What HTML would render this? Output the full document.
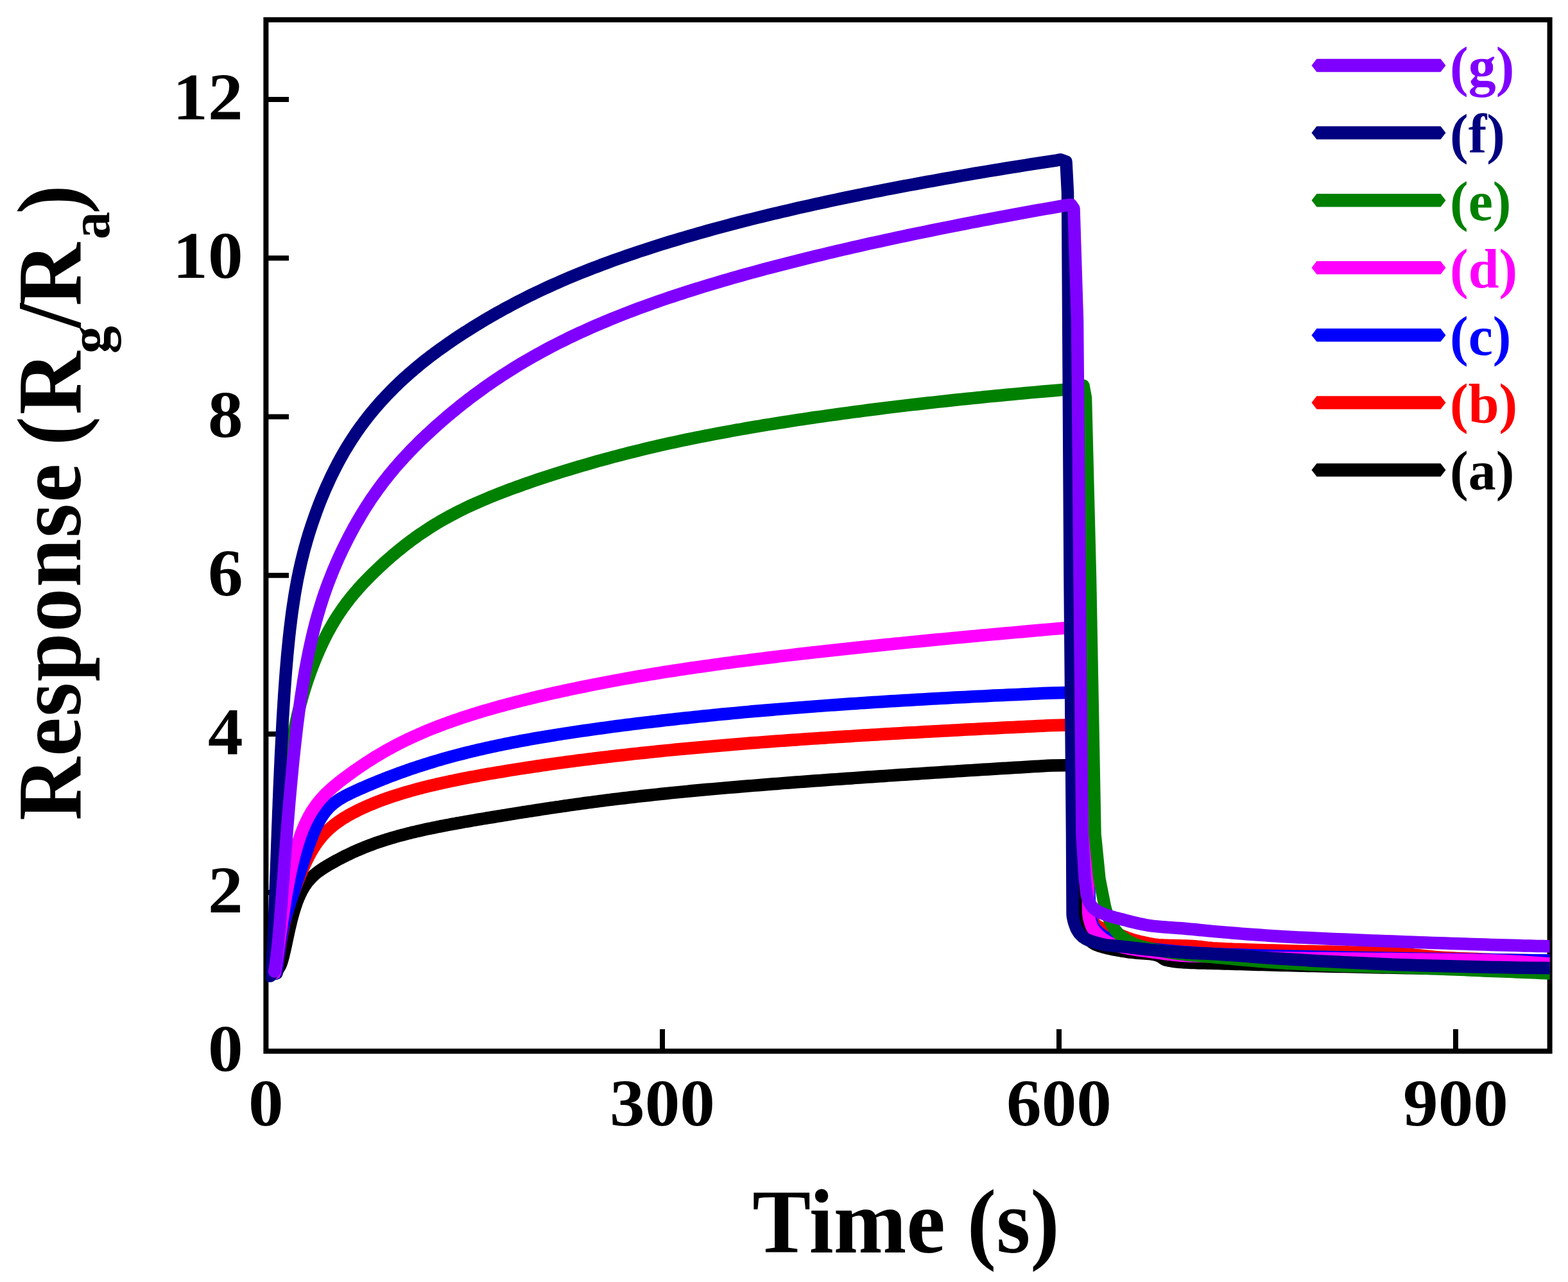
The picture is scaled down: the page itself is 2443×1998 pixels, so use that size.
<!DOCTYPE html>
<html lang="en">
<head>
<meta charset="utf-8">
<title>Response vs Time</title>
<style>
html,body{margin:0;padding:0;background:#fff;}
body{width:2443px;height:1998px;overflow:hidden;}
svg{display:block;}
text{font-family:"Liberation Serif","DejaVu Serif",serif;font-weight:bold;}
.tk{font-size:104px;fill:#000;}
.lg{font-size:86px;}
.ax{font-size:141px;fill:#000;}
</style>
</head>
<body>
<svg xmlns="http://www.w3.org/2000/svg" width="2443" height="1998" viewBox="0 0 2443 1998">
<rect x="0" y="0" width="2443" height="1998" fill="#ffffff"/>
<defs><clipPath id="plot"><rect x="414.4" y="30.8" width="2000.1999999999998" height="1607.5"/></clipPath></defs>

<rect x="414.4" y="30.8" width="2000.2" height="1607.5" fill="none" stroke="#000" stroke-width="8"/>
<line x1="414.4" y1="1391.1" x2="450" y2="1391.1" stroke="#000" stroke-width="8"/>
<line x1="414.4" y1="1143.9" x2="450" y2="1143.9" stroke="#000" stroke-width="8"/>
<line x1="414.4" y1="896.7" x2="450" y2="896.7" stroke="#000" stroke-width="8"/>
<line x1="414.4" y1="649.5" x2="450" y2="649.5" stroke="#000" stroke-width="8"/>
<line x1="414.4" y1="402.3" x2="450" y2="402.3" stroke="#000" stroke-width="8"/>
<line x1="414.4" y1="155.1" x2="450" y2="155.1" stroke="#000" stroke-width="8"/>
<line x1="1032" y1="1638.3" x2="1032" y2="1604" stroke="#000" stroke-width="8"/>
<line x1="1650" y1="1638.3" x2="1650" y2="1604" stroke="#000" stroke-width="8"/>
<line x1="2268" y1="1638.3" x2="2268" y2="1604" stroke="#000" stroke-width="8"/>
<text class="tk" transform="translate(378.5,1669.3) scale(1.05,1)" text-anchor="end">0</text>
<text class="tk" transform="translate(378.5,1422.1) scale(1.05,1)" text-anchor="end">2</text>
<text class="tk" transform="translate(378.5,1174.9) scale(1.05,1)" text-anchor="end">4</text>
<text class="tk" transform="translate(378.5,927.7) scale(1.05,1)" text-anchor="end">6</text>
<text class="tk" transform="translate(378.5,680.5) scale(1.05,1)" text-anchor="end">8</text>
<text class="tk" transform="translate(378.5,433.3) scale(1.05,1)" text-anchor="end">10</text>
<text class="tk" transform="translate(378.5,186.1) scale(1.05,1)" text-anchor="end">12</text>
<text class="tk" transform="translate(414.4,1753.5) scale(1.05,1)" text-anchor="middle">0</text>
<text class="tk" transform="translate(1032,1753.5) scale(1.05,1)" text-anchor="middle">300</text>
<text class="tk" transform="translate(1650,1753.5) scale(1.05,1)" text-anchor="middle">600</text>
<text class="tk" transform="translate(2268,1753.5) scale(1.05,1)" text-anchor="middle">900</text>
<g clip-path="url(#plot)" fill="none" stroke-linejoin="round" stroke-linecap="round" stroke-width="19.5">
<path d="M431.0,1516.9 L431.2,1516.1 L431.4,1515.4 L431.6,1514.6 L431.8,1513.9 L432.0,1513.3 L432.3,1512.6 L432.6,1512.0 L432.9,1511.3 L433.2,1510.7 L433.5,1510.1 L433.9,1509.5 L434.3,1508.9 L434.7,1508.3 L435.1,1507.7 L435.5,1507.0 L435.9,1506.3 L436.3,1505.5 L436.7,1504.6 L437.1,1503.8 L437.5,1502.8 L437.9,1501.8 L438.3,1500.7 L438.7,1499.6 L439.1,1498.4 L439.5,1497.2 L439.9,1495.9 L440.2,1494.6 L440.6,1493.2 L441.0,1491.7 L441.4,1490.3 L441.8,1488.7 L442.1,1487.2 L442.5,1485.5 L442.9,1483.9 L443.3,1482.2 L443.7,1480.5 L444.1,1478.7 L444.5,1476.9 L444.9,1475.1 L445.3,1473.3 L445.7,1471.4 L446.1,1469.5 L446.5,1467.6 L446.9,1465.6 L447.3,1463.7 L447.8,1461.7 L448.2,1459.7 L448.6,1457.6 L449.1,1455.6 L449.5,1453.5 L450.0,1451.5 L450.4,1449.4 L450.9,1447.3 L451.4,1445.2 L451.9,1443.1 L452.4,1441.0 L452.9,1438.9 L453.4,1436.8 L453.9,1434.7 L454.4,1432.6 L455.0,1430.5 L455.5,1428.4 L456.1,1426.3 L456.7,1424.2 L457.3,1422.1 L457.9,1420.1 L458.5,1418.0 L459.2,1415.9 L459.8,1413.9 L460.5,1411.9 L461.2,1409.8 L461.9,1407.9 L462.6,1405.9 L463.3,1403.9 L464.1,1402.0 L464.9,1400.0 L465.7,1398.1 L466.5,1396.3 L467.3,1394.4 L468.2,1392.6 L469.1,1390.8 L470.0,1389.0 L470.9,1387.2 L471.9,1385.5 L472.9,1383.8 L473.9,1382.1 L475.0,1380.5 L476.1,1378.9 L477.2,1377.3 L478.3,1375.8 L479.5,1374.2 L480.7,1372.8 L482.0,1371.3 L483.2,1369.9 L484.5,1368.5 L485.9,1367.1 L487.2,1365.8 L488.6,1364.5 L490.0,1363.2 L491.5,1362.0 L493.0,1360.7 L494.5,1359.5 L496.0,1358.4 L497.6,1357.2 L499.2,1356.1 L500.8,1355.0 L502.5,1353.9 L504.1,1352.8 L505.8,1351.7 L507.6,1350.6 L509.3,1349.6 L511.1,1348.5 L512.9,1347.5 L514.7,1346.4 L516.5,1345.4 L518.4,1344.3 L520.3,1343.3 L522.2,1342.2 L524.1,1341.2 L526.0,1340.1 L528.0,1339.1 L530.0,1338.1 L532.0,1337.0 L534.0,1336.0 L536.1,1334.9 L538.2,1333.9 L540.3,1332.9 L542.4,1331.8 L544.6,1330.8 L546.7,1329.8 L548.9,1328.7 L551.1,1327.7 L553.4,1326.7 L555.6,1325.7 L557.9,1324.7 L560.2,1323.7 L562.6,1322.7 L564.9,1321.8 L567.3,1320.8 L569.7,1319.8 L572.1,1318.9 L574.6,1317.9 L577.1,1317.0 L579.6,1316.1 L582.1,1315.1 L584.6,1314.2 L587.2,1313.3 L589.8,1312.4 L592.4,1311.6 L595.1,1310.7 L597.7,1309.8 L600.4,1309.0 L603.1,1308.1 L605.9,1307.3 L608.6,1306.4 L611.4,1305.6 L614.2,1304.8 L617.0,1304.0 L619.9,1303.2 L622.8,1302.4 L625.7,1301.6 L628.6,1300.9 L631.5,1300.1 L634.5,1299.3 L637.5,1298.6 L640.5,1297.8 L643.5,1297.1 L646.6,1296.4 L649.7,1295.6 L652.8,1294.9 L655.9,1294.2 L659.1,1293.5 L662.2,1292.8 L665.4,1292.1 L668.6,1291.4 L671.9,1290.8 L675.2,1290.1 L678.4,1289.4 L681.7,1288.7 L685.1,1288.1 L688.4,1287.4 L691.8,1286.8 L695.2,1286.1 L698.6,1285.5 L702.1,1284.8 L705.5,1284.2 L709.0,1283.6 L712.5,1282.9 L716.1,1282.3 L719.6,1281.7 L723.2,1281.0 L726.8,1280.4 L730.4,1279.8 L734.1,1279.1 L737.8,1278.5 L741.4,1277.9 L745.2,1277.2 L748.9,1276.6 L752.6,1276.0 L756.4,1275.4 L760.2,1274.7 L764.1,1274.1 L767.9,1273.5 L771.8,1272.8 L775.7,1272.2 L779.6,1271.6 L783.5,1270.9 L787.4,1270.3 L791.4,1269.6 L795.4,1269.0 L799.4,1268.3 L803.5,1267.7 L807.6,1267.0 L811.6,1266.4 L815.8,1265.7 L819.9,1265.1 L824.0,1264.4 L828.2,1263.8 L832.4,1263.1 L836.6,1262.5 L840.9,1261.8 L845.1,1261.2 L849.4,1260.5 L853.7,1259.9 L858.1,1259.2 L862.4,1258.6 L866.8,1257.9 L871.2,1257.3 L875.6,1256.6 L880.0,1256.0 L884.5,1255.3 L889.0,1254.7 L893.5,1254.1 L898.0,1253.4 L902.6,1252.8 L907.2,1252.2 L911.8,1251.5 L916.4,1250.9 L921.0,1250.3 L925.7,1249.7 L930.4,1249.1 L935.1,1248.4 L939.8,1247.8 L944.6,1247.2 L949.4,1246.6 L954.2,1246.0 L959.0,1245.4 L963.8,1244.9 L968.7,1244.3 L973.6,1243.7 L978.5,1243.1 L983.4,1242.5 L988.4,1242.0 L993.4,1241.4 L998.4,1240.8 L1003.4,1240.3 L1008.4,1239.7 L1013.5,1239.2 L1018.6,1238.6 L1023.7,1238.1 L1028.8,1237.5 L1034.0,1237.0 L1039.2,1236.5 L1044.4,1235.9 L1049.6,1235.4 L1054.9,1234.9 L1060.1,1234.4 L1065.4,1233.9 L1070.7,1233.4 L1076.1,1232.8 L1081.4,1232.3 L1086.8,1231.8 L1092.2,1231.3 L1097.6,1230.8 L1103.1,1230.3 L1108.6,1229.9 L1114.0,1229.4 L1119.6,1228.9 L1125.1,1228.4 L1130.7,1227.9 L1136.2,1227.4 L1141.8,1227.0 L1147.5,1226.5 L1153.1,1226.0 L1158.8,1225.5 L1164.5,1225.1 L1170.2,1224.6 L1175.9,1224.1 L1181.7,1223.7 L1187.5,1223.2 L1193.3,1222.7 L1199.1,1222.3 L1205.0,1221.8 L1210.8,1221.4 L1216.7,1220.9 L1222.6,1220.4 L1228.6,1220.0 L1234.5,1219.5 L1240.5,1219.1 L1246.5,1218.6 L1252.5,1218.2 L1258.6,1217.7 L1264.7,1217.3 L1270.8,1216.8 L1276.9,1216.4 L1283.0,1216.0 L1289.2,1215.5 L1295.3,1215.1 L1301.5,1214.6 L1307.8,1214.2 L1314.0,1213.7 L1320.3,1213.3 L1326.6,1212.9 L1332.9,1212.4 L1339.2,1212.0 L1345.6,1211.5 L1352.0,1211.1 L1358.4,1210.7 L1364.8,1210.2 L1371.3,1209.8 L1377.7,1209.4 L1384.2,1208.9 L1390.7,1208.5 L1397.3,1208.0 L1403.8,1207.6 L1410.4,1207.2 L1417.0,1206.7 L1423.6,1206.3 L1430.3,1205.9 L1436.9,1205.4 L1443.6,1205.0 L1450.4,1204.6 L1457.1,1204.1 L1463.8,1203.7 L1470.6,1203.3 L1477.4,1202.8 L1484.3,1202.4 L1491.1,1201.9 L1498.0,1201.5 L1504.9,1201.1 L1511.8,1200.6 L1518.7,1200.2 L1525.7,1199.8 L1532.6,1199.3 L1539.6,1198.9 L1546.7,1198.5 L1553.7,1198.0 L1560.8,1197.6 L1567.9,1197.2 L1575.0,1196.7 L1582.1,1196.3 L1589.3,1195.9 L1596.5,1195.5 L1603.7,1195.0 L1610.9,1194.6 L1618.1,1194.2 L1625.4,1193.7 L1632.7,1193.3 L1640.0,1192.9 L1680.0,1192.5 L1685.0,1200.0 L1686.0,1300.0 L1687.0,1440.0 L1687.0,1440.0 L1687.3,1443.0 L1687.8,1445.9 L1688.4,1448.7 L1689.3,1451.4 L1690.2,1454.0 L1691.3,1456.4 L1692.4,1458.7 L1693.8,1461.0 L1695.5,1463.2 L1697.5,1465.3 L1699.7,1467.3 L1701.9,1469.1 L1704.2,1470.6 L1706.5,1471.8 L1708.9,1472.9 L1711.4,1473.8 L1714.0,1474.7 L1716.7,1475.5 L1719.6,1476.3 L1722.7,1477.1 L1726.1,1478.0 L1729.8,1478.8 L1733.8,1479.6 L1738.0,1480.4 L1742.4,1481.2 L1746.8,1482.0 L1751.3,1482.7 L1755.7,1483.4 L1759.9,1484.0 L1763.9,1484.4 L1767.8,1484.8 L1771.7,1485.2 L1775.7,1485.5 L1779.6,1485.8 L1783.4,1486.0 L1787.0,1486.3 L1790.3,1486.6 L1793.4,1486.9 L1796.0,1487.3 L1798.4,1487.7 L1800.5,1488.2 L1802.4,1488.8 L1804.3,1489.4 L1806.2,1490.1 L1808.1,1491.1 L1809.8,1492.3 L1811.5,1493.6 L1813.4,1494.8 L1815.6,1495.8 L1818.2,1496.5 L1821.2,1497.1 L1824.5,1497.7 L1828.1,1498.3 L1831.9,1498.8 L1835.8,1499.2 L1839.8,1499.6 L1843.9,1499.9 L1847.9,1500.1 L1851.8,1500.3 L1855.8,1500.5 L1859.9,1500.6 L1864.0,1500.7 L1868.3,1500.9 L1872.6,1501.0 L1877.1,1501.1 L1881.8,1501.2 L1886.6,1501.3 L1891.6,1501.4 L1896.9,1501.6 L1902.3,1501.7 L1908.0,1501.9 L1913.9,1502.1 L1919.9,1502.3 L1926.2,1502.5 L1932.6,1502.6 L1939.2,1502.8 L1946.0,1503.0 L1952.9,1503.2 L1959.9,1503.4 L1967.1,1503.6 L1974.4,1503.8 L1981.8,1504.0 L1989.3,1504.2 L1996.9,1504.4 L2004.6,1504.6 L2012.7,1504.8 L2020.9,1505.0 L2029.4,1505.2 L2038.2,1505.4 L2047.1,1505.6 L2056.2,1505.8 L2065.5,1506.0 L2075.0,1506.2 L2084.5,1506.4 L2094.2,1506.6 L2103.9,1506.8 L2113.8,1507.0 L2123.6,1507.3 L2133.5,1507.5 L2143.4,1507.7 L2153.2,1507.9 L2163.1,1508.1 L2172.8,1508.3 L2182.5,1508.5 L2192.1,1508.7 L2201.6,1508.8 L2210.9,1509.0 L2220.2,1509.2 L2229.5,1509.4 L2238.8,1509.6 L2248.1,1509.8 L2257.4,1510.0 L2266.6,1510.2 L2275.9,1510.3 L2285.2,1510.5 L2294.4,1510.7 L2303.7,1510.9 L2313.0,1511.1 L2322.2,1511.3 L2331.5,1511.4 L2340.7,1511.6 L2350.0,1511.8 L2359.2,1512.0 L2368.5,1512.1 L2377.7,1512.3 L2386.9,1512.5 L2396.2,1512.7 L2405.4,1512.8 L2414.6,1513.0" stroke="#000000"/>
<path d="M429.0,1517.1 L429.3,1516.8 L429.6,1516.2 L429.8,1515.5 L430.0,1514.6 L430.3,1513.7 L430.5,1512.7 L430.7,1511.6 L430.9,1510.5 L431.1,1509.3 L431.3,1508.1 L431.5,1506.8 L431.7,1505.5 L431.9,1504.2 L432.1,1502.8 L432.3,1501.4 L432.5,1500.0 L432.8,1498.5 L433.0,1497.0 L433.2,1495.5 L433.4,1493.9 L433.7,1492.4 L433.9,1490.8 L434.2,1489.2 L434.4,1487.5 L434.6,1485.9 L434.9,1484.2 L435.2,1482.5 L435.4,1480.8 L435.7,1479.1 L436.0,1477.3 L436.2,1475.6 L436.5,1473.8 L436.8,1472.0 L437.1,1470.2 L437.4,1468.4 L437.7,1466.6 L438.0,1464.7 L438.3,1462.9 L438.7,1461.0 L439.0,1459.2 L439.3,1457.3 L439.7,1455.4 L440.0,1453.5 L440.4,1451.6 L440.7,1449.7 L441.1,1447.8 L441.5,1445.9 L441.9,1444.0 L442.3,1442.1 L442.7,1440.2 L443.1,1438.3 L443.6,1436.4 L444.0,1434.4 L444.5,1432.5 L444.9,1430.6 L445.4,1428.7 L445.9,1426.8 L446.4,1424.9 L446.9,1423.0 L447.4,1421.1 L448.0,1419.2 L448.5,1417.3 L449.1,1415.4 L449.7,1413.4 L450.2,1411.5 L450.8,1409.6 L451.5,1407.7 L452.1,1405.8 L452.7,1403.9 L453.4,1402.0 L454.0,1400.0 L454.7,1398.1 L455.4,1396.1 L456.1,1394.2 L456.8,1392.2 L457.5,1390.2 L458.3,1388.3 L459.0,1386.3 L459.8,1384.2 L460.5,1382.2 L461.3,1380.2 L462.1,1378.1 L462.9,1376.1 L463.7,1374.0 L464.6,1371.9 L465.4,1369.8 L466.2,1367.6 L467.1,1365.5 L468.0,1363.4 L468.9,1361.2 L469.8,1359.0 L470.7,1356.9 L471.6,1354.7 L472.6,1352.5 L473.5,1350.3 L474.5,1348.2 L475.5,1346.0 L476.5,1343.8 L477.6,1341.6 L478.6,1339.5 L479.7,1337.3 L480.8,1335.1 L481.9,1333.0 L483.1,1330.9 L484.2,1328.8 L485.4,1326.7 L486.7,1324.6 L487.9,1322.5 L489.2,1320.5 L490.5,1318.5 L491.8,1316.5 L493.2,1314.5 L494.5,1312.5 L496.0,1310.6 L497.4,1308.7 L498.9,1306.9 L500.4,1305.0 L501.9,1303.2 L503.5,1301.4 L505.1,1299.7 L506.8,1297.9 L508.4,1296.2 L510.2,1294.6 L511.9,1292.9 L513.7,1291.3 L515.5,1289.7 L517.3,1288.2 L519.2,1286.6 L521.1,1285.1 L523.0,1283.7 L525.0,1282.2 L527.0,1280.8 L529.0,1279.4 L531.0,1278.0 L533.1,1276.6 L535.2,1275.3 L537.4,1274.0 L539.5,1272.7 L541.7,1271.4 L544.0,1270.1 L546.2,1268.9 L548.5,1267.6 L550.8,1266.4 L553.2,1265.2 L555.5,1264.0 L557.9,1262.8 L560.3,1261.6 L562.8,1260.4 L565.3,1259.3 L567.8,1258.1 L570.3,1257.0 L572.8,1255.9 L575.4,1254.8 L578.0,1253.7 L580.7,1252.6 L583.3,1251.5 L586.0,1250.5 L588.7,1249.4 L591.4,1248.4 L594.2,1247.3 L597.0,1246.3 L599.8,1245.3 L602.7,1244.3 L605.5,1243.3 L608.4,1242.3 L611.3,1241.3 L614.3,1240.3 L617.3,1239.4 L620.3,1238.4 L623.3,1237.5 L626.3,1236.5 L629.4,1235.6 L632.5,1234.7 L635.6,1233.8 L638.8,1232.9 L641.9,1232.0 L645.1,1231.1 L648.4,1230.2 L651.6,1229.3 L654.9,1228.5 L658.2,1227.6 L661.5,1226.8 L664.9,1225.9 L668.3,1225.1 L671.7,1224.3 L675.1,1223.5 L678.6,1222.7 L682.0,1221.8 L685.5,1221.1 L689.1,1220.3 L692.6,1219.5 L696.2,1218.7 L699.8,1217.9 L703.5,1217.2 L707.1,1216.4 L710.8,1215.6 L714.5,1214.9 L718.2,1214.2 L722.0,1213.4 L725.8,1212.7 L729.6,1211.9 L733.4,1211.2 L737.3,1210.5 L741.1,1209.8 L745.0,1209.1 L749.0,1208.3 L752.9,1207.6 L756.9,1206.9 L760.9,1206.2 L764.9,1205.5 L769.0,1204.8 L773.1,1204.1 L777.2,1203.4 L781.3,1202.8 L785.4,1202.1 L789.6,1201.4 L793.8,1200.7 L798.1,1200.0 L802.3,1199.3 L806.6,1198.7 L810.9,1198.0 L815.2,1197.3 L819.5,1196.6 L823.9,1196.0 L828.3,1195.3 L832.7,1194.7 L837.2,1194.0 L841.7,1193.3 L846.2,1192.7 L850.7,1192.0 L855.2,1191.4 L859.8,1190.7 L864.4,1190.1 L869.0,1189.4 L873.7,1188.8 L878.3,1188.2 L883.0,1187.5 L887.7,1186.9 L892.5,1186.3 L897.2,1185.7 L902.0,1185.0 L906.9,1184.4 L911.7,1183.8 L916.6,1183.2 L921.5,1182.6 L926.4,1182.0 L931.3,1181.4 L936.3,1180.8 L941.3,1180.2 L946.3,1179.6 L951.3,1179.0 L956.4,1178.4 L961.5,1177.8 L966.6,1177.2 L971.7,1176.7 L976.9,1176.1 L982.1,1175.5 L987.3,1174.9 L992.5,1174.4 L997.8,1173.8 L1003.0,1173.2 L1008.4,1172.7 L1013.7,1172.1 L1019.0,1171.6 L1024.4,1171.0 L1029.8,1170.5 L1035.3,1169.9 L1040.7,1169.4 L1046.2,1168.9 L1051.7,1168.3 L1057.2,1167.8 L1062.8,1167.3 L1068.4,1166.7 L1074.0,1166.2 L1079.6,1165.7 L1085.3,1165.2 L1090.9,1164.7 L1096.6,1164.2 L1102.4,1163.7 L1108.1,1163.2 L1113.9,1162.7 L1119.7,1162.2 L1125.5,1161.7 L1131.4,1161.2 L1137.3,1160.7 L1143.1,1160.2 L1149.1,1159.7 L1155.0,1159.3 L1161.0,1158.8 L1167.0,1158.3 L1173.0,1157.8 L1179.1,1157.4 L1185.1,1156.9 L1191.2,1156.5 L1197.3,1156.0 L1203.5,1155.5 L1209.7,1155.1 L1215.9,1154.6 L1222.1,1154.2 L1228.3,1153.7 L1234.6,1153.3 L1240.9,1152.9 L1247.2,1152.4 L1253.5,1152.0 L1259.9,1151.6 L1266.3,1151.1 L1272.7,1150.7 L1279.1,1150.3 L1285.6,1149.9 L1292.1,1149.4 L1298.6,1149.0 L1305.1,1148.6 L1311.7,1148.2 L1318.3,1147.8 L1324.9,1147.4 L1331.5,1146.9 L1338.2,1146.5 L1344.9,1146.1 L1351.6,1145.7 L1358.3,1145.3 L1365.1,1144.9 L1371.9,1144.5 L1378.7,1144.1 L1385.5,1143.7 L1392.4,1143.3 L1399.2,1142.9 L1406.1,1142.5 L1413.1,1142.1 L1420.0,1141.8 L1427.0,1141.4 L1434.0,1141.0 L1441.0,1140.6 L1448.1,1140.2 L1455.2,1139.8 L1462.3,1139.4 L1469.4,1139.0 L1476.5,1138.7 L1483.7,1138.3 L1490.9,1137.9 L1498.1,1137.5 L1505.4,1137.1 L1512.6,1136.8 L1519.9,1136.4 L1527.3,1136.0 L1534.6,1135.6 L1542.0,1135.3 L1549.4,1134.9 L1556.8,1134.5 L1564.2,1134.1 L1571.7,1133.8 L1579.2,1133.4 L1586.7,1133.0 L1594.2,1132.7 L1601.8,1132.3 L1609.4,1131.9 L1617.0,1131.6 L1624.6,1131.2 L1632.3,1130.8 L1640.0,1130.5 L1682.0,1129.5 L1688.0,1140.0 L1692.0,1300.0 L1697.0,1410.0 L1697.0,1410.0 L1697.3,1414.6 L1697.9,1419.0 L1698.8,1423.2 L1699.8,1427.0 L1701.0,1430.6 L1702.3,1433.8 L1703.8,1436.5 L1705.2,1438.9 L1706.9,1440.9 L1709.1,1442.7 L1711.6,1444.2 L1714.3,1445.6 L1717.2,1446.9 L1720.1,1448.2 L1723.0,1449.4 L1725.9,1450.6 L1728.9,1451.7 L1732.0,1452.7 L1735.1,1453.7 L1738.3,1454.8 L1741.4,1455.8 L1744.4,1456.9 L1747.4,1458.0 L1750.4,1459.2 L1753.4,1460.4 L1756.3,1461.5 L1759.3,1462.6 L1762.3,1463.6 L1765.3,1464.5 L1768.3,1465.4 L1771.3,1466.2 L1774.3,1467.0 L1777.3,1467.7 L1780.3,1468.3 L1783.4,1469.0 L1786.4,1469.6 L1789.3,1470.2 L1792.2,1470.8 L1795.1,1471.3 L1798.1,1471.8 L1801.3,1472.2 L1804.7,1472.6 L1808.5,1472.9 L1812.7,1473.1 L1817.3,1473.2 L1822.2,1473.4 L1827.3,1473.5 L1832.5,1473.7 L1837.8,1473.8 L1843.1,1473.9 L1848.2,1474.1 L1853.0,1474.3 L1857.6,1474.5 L1861.9,1474.8 L1865.9,1475.1 L1869.7,1475.5 L1873.4,1476.0 L1877.1,1476.4 L1881.0,1476.9 L1885.0,1477.3 L1889.4,1477.7 L1894.2,1478.0 L1899.4,1478.3 L1905.1,1478.6 L1911.0,1478.9 L1917.3,1479.1 L1923.8,1479.4 L1930.6,1479.6 L1937.6,1479.8 L1944.9,1480.0 L1952.3,1480.3 L1959.8,1480.5 L1967.4,1480.7 L1975.1,1480.9 L1982.9,1481.1 L1990.7,1481.3 L1998.4,1481.6 L2006.3,1481.8 L2014.4,1482.0 L2022.9,1482.2 L2031.7,1482.4 L2040.6,1482.6 L2049.7,1482.7 L2059.0,1482.9 L2068.4,1483.1 L2077.8,1483.3 L2087.2,1483.5 L2096.7,1483.7 L2106.0,1483.9 L2115.2,1484.1 L2124.3,1484.3 L2133.2,1484.5 L2141.9,1484.7 L2150.3,1485.0 L2158.4,1485.3 L2166.2,1485.5 L2173.5,1485.9 L2180.5,1486.2 L2187.2,1486.7 L2193.6,1487.2 L2199.9,1487.8 L2206.0,1488.4 L2212.0,1489.0 L2217.9,1489.6 L2223.9,1490.2 L2229.9,1490.8 L2236.1,1491.4 L2242.4,1491.9 L2249.0,1492.4 L2255.8,1492.8 L2263.0,1493.1 L2270.3,1493.4 L2277.8,1493.7 L2285.4,1494.0 L2293.1,1494.3 L2301.0,1494.6 L2309.0,1494.9 L2317.1,1495.2 L2325.4,1495.4 L2333.7,1495.7 L2342.2,1495.9 L2350.8,1496.1 L2359.6,1496.3 L2368.4,1496.5 L2377.4,1496.6 L2386.5,1496.7 L2395.8,1496.9 L2405.1,1496.9 L2414.6,1497.0" stroke="#ff0000"/>
<path d="M429.0,1517.4 L429.4,1517.2 L429.6,1516.6 L429.9,1515.8 L430.1,1514.9 L430.3,1513.9 L430.5,1512.9 L430.7,1511.7 L430.9,1510.5 L431.1,1509.3 L431.3,1507.9 L431.5,1506.6 L431.7,1505.2 L431.9,1503.8 L432.1,1502.3 L432.3,1500.8 L432.5,1499.2 L432.7,1497.7 L432.9,1496.1 L433.2,1494.4 L433.4,1492.8 L433.6,1491.1 L433.8,1489.4 L434.1,1487.7 L434.3,1486.0 L434.5,1484.2 L434.8,1482.5 L435.0,1480.7 L435.3,1478.9 L435.6,1477.1 L435.8,1475.3 L436.1,1473.4 L436.4,1471.6 L436.7,1469.7 L437.0,1467.9 L437.3,1466.0 L437.6,1464.2 L437.9,1462.3 L438.2,1460.4 L438.5,1458.6 L438.9,1456.7 L439.2,1454.8 L439.6,1452.9 L439.9,1451.1 L440.3,1449.2 L440.7,1447.3 L441.1,1445.5 L441.5,1443.6 L441.9,1441.7 L442.3,1439.9 L442.8,1438.0 L443.2,1436.2 L443.7,1434.4 L444.2,1432.5 L444.7,1430.7 L445.2,1428.9 L445.7,1427.0 L446.2,1425.2 L446.8,1423.4 L447.3,1421.5 L447.9,1419.7 L448.5,1417.8 L449.1,1415.9 L449.7,1414.1 L450.3,1412.2 L450.9,1410.2 L451.5,1408.3 L452.2,1406.4 L452.8,1404.4 L453.4,1402.4 L454.1,1400.3 L454.8,1398.3 L455.5,1396.2 L456.1,1394.1 L456.8,1392.0 L457.5,1389.8 L458.2,1387.7 L458.9,1385.5 L459.7,1383.2 L460.4,1381.0 L461.1,1378.7 L461.9,1376.4 L462.6,1374.1 L463.4,1371.8 L464.2,1369.4 L464.9,1367.0 L465.7,1364.6 L466.5,1362.2 L467.3,1359.7 L468.1,1357.2 L469.0,1354.7 L469.8,1352.2 L470.6,1349.6 L471.5,1347.0 L472.3,1344.4 L473.2,1341.8 L474.0,1339.1 L474.9,1336.4 L475.8,1333.8 L476.7,1331.0 L477.6,1328.3 L478.5,1325.6 L479.4,1322.9 L480.4,1320.1 L481.3,1317.4 L482.3,1314.6 L483.3,1311.9 L484.3,1309.2 L485.3,1306.4 L486.4,1303.7 L487.4,1301.0 L488.5,1298.4 L489.6,1295.7 L490.8,1293.1 L491.9,1290.5 L493.1,1288.0 L494.4,1285.5 L495.6,1283.0 L496.9,1280.5 L498.2,1278.2 L499.6,1275.8 L501.0,1273.5 L502.5,1271.3 L503.9,1269.1 L505.5,1267.0 L507.0,1265.0 L508.7,1263.0 L510.3,1261.1 L512.0,1259.2 L513.8,1257.4 L515.6,1255.7 L517.5,1254.0 L519.3,1252.4 L521.3,1250.9 L523.3,1249.4 L525.3,1248.0 L527.3,1246.6 L529.4,1245.3 L531.6,1244.0 L533.7,1242.7 L535.9,1241.5 L538.1,1240.3 L540.4,1239.1 L542.7,1238.0 L545.0,1236.8 L547.3,1235.7 L549.7,1234.6 L552.1,1233.5 L554.5,1232.4 L557.0,1231.2 L559.4,1230.1 L561.9,1229.0 L564.5,1227.9 L567.0,1226.8 L569.6,1225.7 L572.2,1224.6 L574.8,1223.5 L577.5,1222.4 L580.1,1221.3 L582.8,1220.1 L585.6,1219.0 L588.3,1217.9 L591.1,1216.8 L593.9,1215.6 L596.7,1214.5 L599.5,1213.4 L602.4,1212.3 L605.3,1211.1 L608.2,1210.0 L611.2,1208.9 L614.2,1207.8 L617.2,1206.7 L620.2,1205.5 L623.3,1204.4 L626.3,1203.3 L629.4,1202.2 L632.6,1201.1 L635.7,1200.0 L638.9,1198.9 L642.1,1197.8 L645.4,1196.7 L648.6,1195.6 L651.9,1194.5 L655.2,1193.5 L658.5,1192.4 L661.9,1191.3 L665.3,1190.3 L668.7,1189.2 L672.2,1188.1 L675.6,1187.1 L679.1,1186.0 L682.6,1185.0 L686.2,1184.0 L689.8,1182.9 L693.4,1181.9 L697.0,1180.9 L700.6,1179.9 L704.3,1178.9 L708.0,1177.9 L711.8,1176.9 L715.5,1175.9 L719.3,1175.0 L723.1,1174.0 L726.9,1173.0 L730.8,1172.1 L734.7,1171.1 L738.6,1170.2 L742.5,1169.3 L746.5,1168.3 L750.5,1167.4 L754.5,1166.5 L758.6,1165.6 L762.6,1164.7 L766.7,1163.8 L770.8,1162.9 L775.0,1162.0 L779.2,1161.2 L783.4,1160.3 L787.6,1159.4 L791.8,1158.6 L796.1,1157.7 L800.4,1156.9 L804.8,1156.1 L809.1,1155.2 L813.5,1154.4 L817.9,1153.6 L822.3,1152.8 L826.8,1152.0 L831.3,1151.2 L835.8,1150.4 L840.3,1149.6 L844.9,1148.9 L849.5,1148.1 L854.1,1147.3 L858.7,1146.6 L863.4,1145.8 L868.1,1145.0 L872.8,1144.3 L877.6,1143.5 L882.3,1142.8 L887.1,1142.1 L891.9,1141.3 L896.8,1140.6 L901.7,1139.9 L906.6,1139.2 L911.5,1138.5 L916.4,1137.8 L921.4,1137.1 L926.4,1136.4 L931.4,1135.7 L936.5,1135.0 L941.5,1134.3 L946.7,1133.6 L951.8,1132.9 L956.9,1132.2 L962.1,1131.5 L967.3,1130.9 L972.5,1130.2 L977.8,1129.5 L983.1,1128.9 L988.4,1128.2 L993.7,1127.5 L999.1,1126.9 L1004.5,1126.2 L1009.9,1125.6 L1015.3,1125.0 L1020.8,1124.3 L1026.3,1123.7 L1031.8,1123.0 L1037.3,1122.4 L1042.9,1121.8 L1048.4,1121.2 L1054.1,1120.5 L1059.7,1119.9 L1065.4,1119.3 L1071.1,1118.7 L1076.8,1118.1 L1082.5,1117.5 L1088.3,1116.9 L1094.1,1116.3 L1099.9,1115.7 L1105.7,1115.1 L1111.6,1114.5 L1117.5,1113.9 L1123.4,1113.3 L1129.4,1112.8 L1135.3,1112.2 L1141.3,1111.6 L1147.3,1111.1 L1153.4,1110.5 L1159.5,1109.9 L1165.6,1109.4 L1171.7,1108.8 L1177.8,1108.3 L1184.0,1107.8 L1190.2,1107.2 L1196.4,1106.7 L1202.7,1106.2 L1209.0,1105.6 L1215.3,1105.1 L1221.6,1104.6 L1227.9,1104.1 L1234.3,1103.6 L1240.7,1103.1 L1247.2,1102.6 L1253.6,1102.1 L1260.1,1101.6 L1266.6,1101.1 L1273.1,1100.6 L1279.7,1100.1 L1286.3,1099.6 L1292.9,1099.1 L1299.5,1098.7 L1306.2,1098.2 L1312.9,1097.7 L1319.6,1097.3 L1326.3,1096.8 L1333.1,1096.4 L1339.9,1095.9 L1346.7,1095.5 L1353.5,1095.0 L1360.4,1094.6 L1367.3,1094.1 L1374.2,1093.7 L1381.1,1093.3 L1388.1,1092.8 L1395.1,1092.4 L1402.1,1092.0 L1409.1,1091.6 L1416.2,1091.2 L1423.3,1090.7 L1430.4,1090.3 L1437.5,1089.9 L1444.7,1089.5 L1451.9,1089.1 L1459.1,1088.7 L1466.4,1088.3 L1473.6,1087.9 L1480.9,1087.5 L1488.2,1087.1 L1495.6,1086.8 L1503.0,1086.4 L1510.4,1086.0 L1517.8,1085.6 L1525.2,1085.3 L1532.7,1084.9 L1540.2,1084.5 L1547.7,1084.1 L1555.3,1083.8 L1562.9,1083.4 L1570.5,1083.1 L1578.1,1082.7 L1585.7,1082.4 L1593.4,1082.0 L1601.1,1081.7 L1608.8,1081.3 L1616.6,1081.0 L1624.4,1080.6 L1632.2,1080.3 L1640.0,1079.9 L1684.0,1079.0 L1690.0,1090.0 L1694.0,1300.0 L1696.9,1390.0 L1698.0,1420.0 L1698.0,1420.0 L1698.2,1424.1 L1698.8,1428.1 L1699.6,1432.0 L1700.7,1435.6 L1701.9,1439.1 L1703.1,1442.3 L1704.8,1445.4 L1707.0,1448.4 L1709.7,1451.2 L1712.6,1453.9 L1715.7,1456.4 L1718.9,1458.6 L1722.2,1460.7 L1725.9,1462.7 L1729.8,1464.6 L1733.9,1466.3 L1738.3,1467.9 L1742.8,1469.4 L1747.5,1470.7 L1752.4,1471.9 L1757.6,1473.0 L1763.0,1474.1 L1768.6,1475.1 L1774.5,1476.1 L1780.6,1477.0 L1786.8,1477.9 L1793.2,1478.7 L1799.9,1479.4 L1806.8,1480.2 L1813.9,1481.0 L1821.3,1481.7 L1829.0,1482.4 L1836.9,1483.1 L1844.9,1483.7 L1853.1,1484.3 L1861.5,1484.9 L1870.1,1485.4 L1878.7,1485.9 L1887.4,1486.4 L1896.3,1486.8 L1905.2,1487.2 L1914.1,1487.5 L1923.2,1487.8 L1932.4,1488.1 L1941.8,1488.4 L1951.3,1488.7 L1960.9,1489.0 L1970.8,1489.2 L1980.9,1489.5 L1991.2,1489.7 L2001.8,1489.9 L2012.6,1490.2 L2023.7,1490.4 L2035.1,1490.7 L2046.8,1490.9 L2058.8,1491.2 L2071.2,1491.5 L2083.8,1491.7 L2096.8,1492.0 L2110.0,1492.2 L2123.5,1492.5 L2137.3,1492.8 L2151.4,1493.0 L2165.8,1493.3 L2180.5,1493.5 L2195.4,1493.8 L2210.7,1494.0 L2226.2,1494.3 L2241.9,1494.6 L2258.0,1494.8 L2274.3,1495.1 L2290.9,1495.3 L2307.8,1495.5 L2325.0,1495.8 L2342.4,1496.0 L2360.0,1496.3 L2378.0,1496.5 L2396.2,1496.8 L2414.6,1497.0" stroke="#0000ff"/>
<path d="M428.0,1516.5 L428.2,1515.6 L428.4,1514.6 L428.5,1513.6 L428.7,1512.5 L428.9,1511.4 L429.1,1510.2 L429.3,1509.0 L429.5,1507.8 L429.7,1506.5 L429.9,1505.2 L430.1,1503.8 L430.3,1502.5 L430.5,1501.0 L430.7,1499.6 L430.9,1498.1 L431.1,1496.6 L431.3,1495.1 L431.5,1493.5 L431.8,1491.9 L432.0,1490.3 L432.2,1488.7 L432.5,1487.0 L432.7,1485.3 L432.9,1483.6 L433.2,1481.8 L433.4,1480.0 L433.7,1478.2 L433.9,1476.4 L434.2,1474.5 L434.5,1472.6 L434.7,1470.7 L435.0,1468.7 L435.3,1466.7 L435.6,1464.7 L435.9,1462.7 L436.1,1460.6 L436.4,1458.5 L436.7,1456.4 L437.0,1454.3 L437.3,1452.1 L437.6,1449.9 L438.0,1447.7 L438.3,1445.5 L438.6,1443.2 L438.9,1440.9 L439.2,1438.6 L439.6,1436.3 L439.9,1433.9 L440.3,1431.6 L440.6,1429.2 L441.0,1426.8 L441.3,1424.4 L441.7,1421.9 L442.1,1419.5 L442.4,1417.0 L442.8,1414.5 L443.2,1412.0 L443.6,1409.5 L444.0,1407.0 L444.4,1404.4 L444.8,1401.9 L445.2,1399.3 L445.7,1396.7 L446.1,1394.2 L446.5,1391.6 L447.0,1389.0 L447.5,1386.4 L447.9,1383.8 L448.4,1381.1 L448.9,1378.5 L449.4,1375.9 L449.9,1373.3 L450.4,1370.6 L450.9,1368.0 L451.4,1365.3 L452.0,1362.7 L452.5,1360.1 L453.1,1357.4 L453.6,1354.8 L454.2,1352.1 L454.8,1349.5 L455.4,1346.8 L456.0,1344.2 L456.7,1341.5 L457.3,1338.9 L458.0,1336.3 L458.6,1333.6 L459.3,1331.0 L460.0,1328.4 L460.7,1325.8 L461.5,1323.2 L462.2,1320.6 L463.0,1318.0 L463.8,1315.5 L464.5,1312.9 L465.4,1310.4 L466.2,1307.8 L467.1,1305.3 L467.9,1302.8 L468.8,1300.3 L469.7,1297.9 L470.7,1295.4 L471.6,1293.0 L472.6,1290.6 L473.6,1288.2 L474.7,1285.8 L475.7,1283.4 L476.8,1281.1 L477.9,1278.8 L479.1,1276.5 L480.2,1274.3 L481.4,1272.0 L482.7,1269.8 L483.9,1267.6 L485.2,1265.5 L486.5,1263.4 L487.9,1261.3 L489.3,1259.2 L490.7,1257.1 L492.2,1255.1 L493.6,1253.1 L495.2,1251.1 L496.7,1249.2 L498.3,1247.3 L499.9,1245.4 L501.6,1243.5 L503.3,1241.7 L505.0,1239.8 L506.7,1238.0 L508.5,1236.2 L510.3,1234.5 L512.2,1232.7 L514.1,1231.0 L516.0,1229.3 L517.9,1227.6 L519.9,1225.9 L521.9,1224.2 L523.9,1222.5 L526.0,1220.8 L528.0,1219.2 L530.1,1217.5 L532.3,1215.8 L534.4,1214.2 L536.6,1212.5 L538.9,1210.9 L541.1,1209.2 L543.4,1207.5 L545.7,1205.9 L548.0,1204.2 L550.3,1202.5 L552.7,1200.8 L555.1,1199.1 L557.5,1197.5 L560.0,1195.8 L562.4,1194.1 L565.0,1192.4 L567.5,1190.7 L570.0,1189.0 L572.6,1187.3 L575.2,1185.7 L577.9,1184.0 L580.5,1182.3 L583.2,1180.6 L586.0,1178.9 L588.7,1177.3 L591.5,1175.6 L594.3,1174.0 L597.1,1172.3 L600.0,1170.7 L602.9,1169.0 L605.8,1167.4 L608.8,1165.8 L611.7,1164.2 L614.7,1162.6 L617.8,1161.0 L620.8,1159.4 L623.9,1157.8 L627.1,1156.2 L630.2,1154.7 L633.4,1153.1 L636.6,1151.6 L639.9,1150.1 L643.1,1148.6 L646.4,1147.1 L649.8,1145.6 L653.1,1144.1 L656.5,1142.6 L659.9,1141.1 L663.4,1139.7 L666.8,1138.2 L670.3,1136.8 L673.9,1135.4 L677.4,1134.0 L681.0,1132.6 L684.7,1131.2 L688.3,1129.8 L692.0,1128.4 L695.7,1127.1 L699.4,1125.7 L703.2,1124.4 L707.0,1123.0 L710.8,1121.7 L714.7,1120.4 L718.5,1119.1 L722.5,1117.8 L726.4,1116.5 L730.4,1115.2 L734.4,1113.9 L738.4,1112.7 L742.4,1111.4 L746.5,1110.2 L750.6,1108.9 L754.7,1107.7 L758.9,1106.5 L763.1,1105.3 L767.3,1104.1 L771.6,1102.9 L775.9,1101.7 L780.2,1100.5 L784.5,1099.3 L788.9,1098.1 L793.2,1097.0 L797.7,1095.8 L802.1,1094.6 L806.6,1093.5 L811.1,1092.4 L815.6,1091.2 L820.2,1090.1 L824.8,1089.0 L829.4,1087.8 L834.0,1086.7 L838.7,1085.6 L843.4,1084.5 L848.1,1083.4 L852.9,1082.3 L857.6,1081.2 L862.5,1080.1 L867.3,1079.1 L872.2,1078.0 L877.0,1076.9 L882.0,1075.9 L886.9,1074.8 L891.9,1073.7 L896.9,1072.7 L901.9,1071.6 L907.0,1070.6 L912.1,1069.6 L917.2,1068.5 L922.3,1067.5 L927.5,1066.5 L932.7,1065.5 L937.9,1064.5 L943.2,1063.5 L948.4,1062.5 L953.7,1061.5 L959.1,1060.5 L964.4,1059.5 L969.8,1058.5 L975.3,1057.5 L980.7,1056.6 L986.2,1055.6 L991.7,1054.7 L997.2,1053.7 L1002.8,1052.8 L1008.3,1051.8 L1014.0,1050.9 L1019.6,1050.0 L1025.3,1049.1 L1031.0,1048.2 L1036.7,1047.2 L1042.4,1046.3 L1048.2,1045.5 L1054.0,1044.6 L1059.9,1043.7 L1065.7,1042.8 L1071.6,1041.9 L1077.5,1041.0 L1083.5,1040.2 L1089.4,1039.3 L1095.4,1038.5 L1101.5,1037.6 L1107.5,1036.8 L1113.6,1035.9 L1119.7,1035.1 L1125.9,1034.2 L1132.0,1033.4 L1138.2,1032.6 L1144.4,1031.7 L1150.7,1030.9 L1157.0,1030.1 L1163.3,1029.3 L1169.6,1028.5 L1175.9,1027.7 L1182.3,1026.9 L1188.7,1026.1 L1195.2,1025.3 L1201.6,1024.5 L1208.1,1023.7 L1214.7,1022.9 L1221.2,1022.1 L1227.8,1021.4 L1234.4,1020.6 L1241.0,1019.8 L1247.7,1019.0 L1254.4,1018.3 L1261.1,1017.5 L1267.8,1016.7 L1274.6,1016.0 L1281.4,1015.2 L1288.2,1014.5 L1295.1,1013.7 L1301.9,1013.0 L1308.8,1012.2 L1315.8,1011.5 L1322.7,1010.7 L1329.7,1010.0 L1336.7,1009.2 L1343.8,1008.5 L1350.9,1007.7 L1357.9,1007.0 L1365.1,1006.3 L1372.2,1005.5 L1379.4,1004.8 L1386.6,1004.1 L1393.8,1003.3 L1401.1,1002.6 L1408.4,1001.9 L1415.7,1001.1 L1423.0,1000.4 L1430.4,999.7 L1437.8,999.0 L1445.2,998.2 L1452.7,997.5 L1460.2,996.8 L1467.7,996.1 L1475.2,995.4 L1482.8,994.6 L1490.4,993.9 L1498.0,993.2 L1505.6,992.5 L1513.3,991.8 L1521.0,991.1 L1528.7,990.3 L1536.5,989.6 L1544.2,988.9 L1552.0,988.2 L1559.9,987.5 L1567.7,986.8 L1575.6,986.1 L1583.5,985.4 L1591.5,984.7 L1599.4,984.0 L1607.4,983.2 L1615.5,982.5 L1623.5,981.8 L1631.6,981.1 L1639.7,980.4 L1647.8,979.7 L1656.0,979.0 L1688.0,977.5 L1694.0,990.0 L1695.0,1300.0 L1695.6,1420.0 L1695.6,1420.0 L1695.8,1423.6 L1696.2,1427.2 L1696.8,1430.6 L1697.5,1433.8 L1698.4,1437.0 L1699.3,1440.0 L1700.3,1442.9 L1701.7,1445.7 L1703.4,1448.4 L1705.4,1451.0 L1707.5,1453.5 L1709.8,1455.8 L1712.0,1458.0 L1714.4,1460.1 L1716.9,1462.2 L1719.6,1464.1 L1722.4,1466.0 L1725.3,1467.7 L1728.3,1469.2 L1731.5,1470.6 L1734.8,1471.9 L1738.3,1473.1 L1741.9,1474.3 L1745.7,1475.3 L1749.5,1476.3 L1753.2,1477.2 L1756.9,1478.0 L1760.5,1478.7 L1764.1,1479.3 L1767.6,1479.9 L1771.1,1480.5 L1774.8,1481.0 L1778.6,1481.5 L1782.7,1482.1 L1787.2,1482.7 L1792.0,1483.4 L1797.1,1484.1 L1802.6,1484.9 L1808.3,1485.7 L1814.1,1486.5 L1820.1,1487.2 L1826.0,1487.9 L1832.0,1488.5 L1837.8,1489.0 L1843.4,1489.4 L1848.8,1489.7 L1854.0,1489.9 L1859.0,1490.0 L1864.0,1490.2 L1868.9,1490.3 L1873.8,1490.4 L1878.8,1490.5 L1883.9,1490.6 L1889.1,1490.8 L1894.7,1490.9 L1900.4,1491.0 L1906.5,1491.2 L1912.6,1491.3 L1919.0,1491.4 L1925.5,1491.6 L1932.2,1491.7 L1939.0,1491.9 L1946.0,1492.0 L1953.2,1492.2 L1960.5,1492.3 L1968.0,1492.5 L1975.7,1492.6 L1983.6,1492.7 L1991.6,1492.9 L1999.8,1493.0 L2008.4,1493.1 L2017.4,1493.2 L2027.0,1493.3 L2036.9,1493.4 L2047.2,1493.5 L2057.7,1493.6 L2068.5,1493.7 L2079.5,1493.8 L2090.6,1493.9 L2101.8,1494.0 L2113.0,1494.1 L2124.2,1494.2 L2135.3,1494.3 L2146.2,1494.4 L2156.9,1494.5 L2167.4,1494.6 L2177.5,1494.7 L2187.3,1494.8 L2196.7,1494.9 L2205.6,1495.0 L2214.0,1495.1 L2222.0,1495.2 L2229.8,1495.2 L2237.4,1495.3 L2244.8,1495.4 L2252.0,1495.5 L2259.0,1495.6 L2266.0,1495.7 L2272.9,1495.8 L2279.8,1495.9 L2286.6,1496.0 L2293.5,1496.1 L2300.4,1496.2 L2307.4,1496.4 L2314.6,1496.5 L2321.8,1496.7 L2328.9,1497.0 L2336.1,1497.2 L2343.3,1497.5 L2350.4,1497.9 L2357.6,1498.3 L2364.7,1498.7 L2371.9,1499.1 L2379.0,1499.5 L2386.1,1500.0 L2393.3,1500.5 L2400.4,1501.0 L2407.5,1501.5 L2414.6,1502.0" stroke="#ff00ff"/>
<path d="M425.0,1516.8 L425.3,1516.2 L425.5,1515.1 L425.7,1513.7 L425.9,1512.2 L426.1,1510.5 L426.2,1508.7 L426.4,1506.8 L426.6,1504.8 L426.7,1502.7 L426.9,1500.5 L427.0,1498.3 L427.2,1496.0 L427.4,1493.6 L427.5,1491.1 L427.7,1488.6 L427.8,1486.1 L428.0,1483.4 L428.2,1480.8 L428.3,1478.1 L428.5,1475.3 L428.7,1472.5 L428.8,1469.6 L429.0,1466.7 L429.2,1463.7 L429.3,1460.7 L429.5,1457.7 L429.7,1454.6 L429.9,1451.5 L430.0,1448.4 L430.2,1445.2 L430.4,1441.9 L430.6,1438.7 L430.8,1435.4 L431.0,1432.1 L431.2,1428.7 L431.4,1425.3 L431.6,1421.9 L431.8,1418.4 L432.0,1414.9 L432.2,1411.4 L432.4,1407.9 L432.6,1404.3 L432.8,1400.7 L433.0,1397.1 L433.2,1393.4 L433.5,1389.8 L433.7,1386.1 L433.9,1382.3 L434.1,1378.6 L434.4,1374.8 L434.6,1371.1 L434.9,1367.2 L435.1,1363.4 L435.3,1359.6 L435.6,1355.7 L435.8,1351.8 L436.1,1347.9 L436.4,1344.0 L436.6,1340.1 L436.9,1336.2 L437.2,1332.2 L437.4,1328.2 L437.7,1324.2 L438.0,1320.2 L438.3,1316.2 L438.6,1312.2 L438.9,1308.2 L439.2,1304.2 L439.5,1300.1 L439.8,1296.1 L440.1,1292.0 L440.4,1288.0 L440.8,1283.9 L441.1,1279.8 L441.4,1275.8 L441.8,1271.7 L442.1,1267.6 L442.5,1263.5 L442.8,1259.4 L443.2,1255.4 L443.6,1251.3 L444.0,1247.2 L444.4,1243.2 L444.8,1239.1 L445.2,1235.1 L445.6,1231.0 L446.0,1227.0 L446.4,1222.9 L446.9,1218.9 L447.3,1214.9 L447.8,1210.9 L448.2,1206.9 L448.7,1203.0 L449.2,1199.0 L449.7,1195.1 L450.2,1191.1 L450.7,1187.2 L451.2,1183.3 L451.8,1179.5 L452.3,1175.6 L452.9,1171.8 L453.5,1167.9 L454.1,1164.1 L454.7,1160.4 L455.3,1156.6 L455.9,1152.9 L456.6,1149.2 L457.2,1145.5 L457.9,1141.8 L458.6,1138.1 L459.3,1134.5 L460.1,1130.9 L460.8,1127.3 L461.6,1123.7 L462.4,1120.2 L463.2,1116.6 L464.0,1113.1 L464.9,1109.6 L465.7,1106.1 L466.6,1102.6 L467.5,1099.1 L468.4,1095.7 L469.4,1092.2 L470.3,1088.8 L471.3,1085.4 L472.3,1081.9 L473.3,1078.5 L474.4,1075.1 L475.4,1071.7 L476.5,1068.3 L477.6,1064.9 L478.7,1061.5 L479.9,1058.1 L481.1,1054.7 L482.3,1051.3 L483.5,1048.0 L484.7,1044.6 L486.0,1041.2 L487.2,1037.8 L488.6,1034.5 L489.9,1031.1 L491.2,1027.7 L492.6,1024.4 L494.0,1021.0 L495.5,1017.7 L496.9,1014.3 L498.4,1011.0 L499.9,1007.7 L501.5,1004.3 L503.0,1001.0 L504.6,997.7 L506.3,994.4 L507.9,991.2 L509.6,987.9 L511.3,984.6 L513.1,981.4 L514.9,978.2 L516.7,975.0 L518.6,971.8 L520.5,968.6 L522.4,965.4 L524.3,962.3 L526.3,959.2 L528.4,956.1 L530.5,953.0 L532.6,949.9 L534.7,946.9 L536.9,943.9 L539.1,940.8 L541.4,937.9 L543.7,934.9 L546.0,931.9 L548.4,929.0 L550.8,926.1 L553.3,923.2 L555.8,920.3 L558.3,917.4 L560.9,914.5 L563.5,911.7 L566.1,908.8 L568.8,906.0 L571.5,903.2 L574.2,900.4 L577.0,897.6 L579.8,894.8 L582.7,892.0 L585.6,889.2 L588.5,886.4 L591.5,883.6 L594.5,880.8 L597.5,878.1 L600.6,875.3 L603.7,872.5 L606.8,869.8 L610.0,867.0 L613.2,864.3 L616.5,861.5 L619.8,858.8 L623.1,856.1 L626.5,853.4 L629.9,850.7 L633.3,848.0 L636.8,845.4 L640.3,842.7 L643.9,840.1 L647.5,837.5 L651.1,834.9 L654.8,832.3 L658.6,829.8 L662.3,827.3 L666.1,824.8 L670.0,822.3 L673.9,819.8 L677.8,817.4 L681.8,815.0 L685.8,812.6 L689.9,810.3 L694.0,808.0 L698.1,805.7 L702.3,803.4 L706.6,801.2 L710.8,798.9 L715.1,796.8 L719.5,794.6 L723.9,792.4 L728.3,790.3 L732.8,788.2 L737.3,786.2 L741.9,784.1 L746.5,782.1 L751.1,780.1 L755.8,778.1 L760.5,776.1 L765.3,774.1 L770.1,772.2 L774.9,770.3 L779.8,768.4 L784.7,766.5 L789.6,764.6 L794.6,762.7 L799.6,760.9 L804.7,759.0 L809.8,757.2 L814.9,755.3 L820.1,753.5 L825.3,751.7 L830.5,749.9 L835.8,748.1 L841.1,746.3 L846.5,744.5 L851.9,742.8 L857.3,741.0 L862.8,739.3 L868.3,737.5 L873.8,735.8 L879.4,734.0 L885.0,732.3 L890.7,730.6 L896.4,728.9 L902.1,727.2 L907.9,725.5 L913.7,723.8 L919.5,722.1 L925.4,720.4 L931.3,718.7 L937.2,717.1 L943.2,715.5 L949.3,713.8 L955.3,712.2 L961.4,710.6 L967.6,709.0 L973.7,707.4 L979.9,705.8 L986.2,704.2 L992.5,702.7 L998.8,701.1 L1005.1,699.6 L1011.5,698.1 L1018.0,696.6 L1024.4,695.1 L1030.9,693.6 L1037.5,692.1 L1044.1,690.6 L1050.7,689.2 L1057.3,687.8 L1064.0,686.3 L1070.8,684.9 L1077.5,683.5 L1084.3,682.2 L1091.2,680.8 L1098.1,679.4 L1105.0,678.1 L1111.9,676.7 L1118.9,675.4 L1125.9,674.1 L1133.0,672.8 L1140.1,671.5 L1147.2,670.2 L1154.4,669.0 L1161.6,667.7 L1168.9,666.4 L1176.2,665.2 L1183.5,664.0 L1190.8,662.7 L1198.2,661.5 L1205.7,660.3 L1213.1,659.1 L1220.6,658.0 L1228.2,656.8 L1235.7,655.6 L1243.4,654.4 L1251.0,653.3 L1258.7,652.2 L1266.4,651.0 L1274.2,649.9 L1282.0,648.8 L1289.8,647.7 L1297.7,646.6 L1305.6,645.5 L1313.5,644.4 L1321.5,643.3 L1329.5,642.2 L1337.6,641.2 L1345.6,640.1 L1353.8,639.0 L1361.9,638.0 L1370.1,637.0 L1378.3,635.9 L1386.6,634.9 L1394.9,633.9 L1403.3,632.9 L1411.6,631.9 L1420.0,630.9 L1428.5,630.0 L1437.0,629.0 L1445.5,628.0 L1454.1,627.1 L1462.7,626.1 L1471.3,625.2 L1480.0,624.2 L1488.7,623.3 L1497.4,622.4 L1506.2,621.5 L1515.0,620.6 L1523.8,619.7 L1532.7,618.8 L1541.6,617.9 L1550.6,617.0 L1559.6,616.2 L1568.6,615.3 L1577.7,614.5 L1586.8,613.6 L1595.9,612.8 L1605.1,611.9 L1614.3,611.1 L1623.5,610.3 L1632.8,609.5 L1642.1,608.7 L1651.5,607.9 L1675.0,606.0 L1688.0,601.0 L1691.5,620.0 L1698.5,900.0 L1706.0,1300.0 L1713.0,1370.0 L1720.2,1406.3 L1720.2,1406.3 L1720.9,1410.0 L1721.7,1413.7 L1722.7,1417.4 L1723.8,1421.0 L1725.1,1424.6 L1726.4,1428.1 L1727.8,1431.5 L1729.3,1435.0 L1731.1,1438.5 L1733.0,1442.1 L1735.1,1445.5 L1737.4,1448.8 L1739.8,1452.0 L1742.3,1454.9 L1744.9,1457.5 L1747.8,1459.9 L1751.0,1462.3 L1754.4,1464.5 L1757.9,1466.6 L1761.6,1468.6 L1765.3,1470.3 L1769.1,1471.9 L1773.0,1473.3 L1777.1,1474.6 L1781.4,1475.8 L1785.9,1477.0 L1790.3,1478.0 L1794.8,1479.0 L1799.2,1480.0 L1803.6,1480.8 L1807.7,1481.7 L1811.7,1482.4 L1815.6,1483.2 L1819.4,1483.9 L1823.3,1484.5 L1827.2,1485.1 L1831.3,1485.7 L1835.7,1486.3 L1840.3,1486.9 L1845.2,1487.5 L1850.1,1488.0 L1855.3,1488.5 L1860.6,1489.0 L1866.1,1489.5 L1871.8,1490.0 L1877.6,1490.5 L1883.5,1491.1 L1889.6,1491.6 L1895.9,1492.2 L1902.4,1492.8 L1909.2,1493.4 L1916.3,1494.1 L1923.6,1494.8 L1931.1,1495.5 L1938.7,1496.2 L1946.4,1496.9 L1954.3,1497.6 L1962.1,1498.3 L1970.0,1498.9 L1977.8,1499.5 L1985.6,1500.1 L1993.2,1500.6 L2000.7,1501.0 L2008.1,1501.5 L2015.5,1501.8 L2023.0,1502.2 L2030.4,1502.6 L2037.8,1502.9 L2045.1,1503.2 L2052.5,1503.6 L2059.9,1503.9 L2067.3,1504.1 L2074.7,1504.4 L2082.1,1504.7 L2089.5,1505.0 L2096.9,1505.2 L2104.3,1505.5 L2111.8,1505.8 L2119.2,1506.0 L2126.6,1506.2 L2134.1,1506.5 L2141.5,1506.7 L2149.0,1506.9 L2156.4,1507.1 L2163.9,1507.3 L2171.3,1507.5 L2178.8,1507.7 L2186.2,1508.0 L2193.6,1508.2 L2201.1,1508.4 L2208.5,1508.7 L2215.9,1508.9 L2223.3,1509.2 L2230.8,1509.5 L2238.2,1509.8 L2245.6,1510.1 L2253.0,1510.4 L2260.4,1510.7 L2267.8,1511.0 L2275.2,1511.3 L2282.6,1511.6 L2290.0,1512.0 L2297.4,1512.3 L2304.8,1512.6 L2312.2,1512.9 L2319.5,1513.2 L2326.9,1513.5 L2334.2,1513.8 L2341.5,1514.1 L2348.9,1514.3 L2356.2,1514.6 L2363.5,1514.9 L2370.8,1515.2 L2378.1,1515.5 L2385.5,1515.8 L2392.7,1516.1 L2400.0,1516.4 L2407.3,1516.7 L2414.6,1517.0" stroke="#008000"/>
<path d="M421.0,1521.1 L421.5,1520.8 L421.8,1519.9 L422.1,1518.7 L422.3,1517.4 L422.6,1515.9 L422.8,1514.2 L423.0,1512.3 L423.2,1510.3 L423.4,1508.2 L423.6,1505.9 L423.8,1503.5 L424.0,1500.9 L424.2,1498.3 L424.4,1495.5 L424.6,1492.6 L424.8,1489.6 L425.0,1486.5 L425.1,1483.3 L425.3,1480.0 L425.5,1476.5 L425.7,1473.0 L425.9,1469.4 L426.0,1465.7 L426.2,1461.9 L426.4,1458.0 L426.6,1454.0 L426.8,1450.0 L426.9,1445.8 L427.1,1441.6 L427.3,1437.3 L427.5,1432.9 L427.7,1428.5 L427.8,1423.9 L428.0,1419.3 L428.2,1414.7 L428.4,1410.0 L428.6,1405.2 L428.8,1400.3 L428.9,1395.4 L429.1,1390.4 L429.3,1385.4 L429.5,1380.3 L429.7,1375.2 L429.9,1370.0 L430.1,1364.8 L430.3,1359.5 L430.5,1354.2 L430.7,1348.8 L430.9,1343.4 L431.1,1337.9 L431.3,1332.4 L431.5,1326.9 L431.7,1321.4 L431.9,1315.8 L432.1,1310.1 L432.3,1304.5 L432.5,1298.8 L432.7,1293.1 L432.9,1287.4 L433.2,1281.6 L433.4,1275.8 L433.6,1270.1 L433.8,1264.2 L434.1,1258.4 L434.3,1252.6 L434.5,1246.7 L434.8,1240.9 L435.0,1235.0 L435.2,1229.1 L435.5,1223.2 L435.7,1217.3 L436.0,1211.4 L436.3,1205.5 L436.5,1199.7 L436.8,1193.8 L437.1,1187.9 L437.3,1182.0 L437.6,1176.1 L437.9,1170.2 L438.2,1164.4 L438.5,1158.5 L438.8,1152.7 L439.1,1146.9 L439.4,1141.1 L439.7,1135.3 L440.0,1129.5 L440.3,1123.7 L440.6,1118.0 L441.0,1112.2 L441.3,1106.5 L441.7,1100.9 L442.0,1095.2 L442.4,1089.6 L442.7,1084.0 L443.1,1078.4 L443.5,1072.8 L443.9,1067.3 L444.3,1061.8 L444.7,1056.4 L445.1,1050.9 L445.5,1045.5 L446.0,1040.1 L446.4,1034.8 L446.9,1029.5 L447.3,1024.2 L447.8,1019.0 L448.3,1013.8 L448.8,1008.6 L449.3,1003.5 L449.8,998.4 L450.3,993.4 L450.9,988.3 L451.4,983.4 L452.0,978.4 L452.6,973.5 L453.2,968.6 L453.8,963.8 L454.4,959.0 L455.0,954.2 L455.7,949.5 L456.4,944.8 L457.1,940.2 L457.8,935.6 L458.5,931.0 L459.2,926.4 L460.0,921.9 L460.8,917.4 L461.6,913.0 L462.4,908.5 L463.2,904.1 L464.1,899.8 L465.0,895.4 L465.9,891.1 L466.8,886.8 L467.8,882.6 L468.7,878.3 L469.7,874.1 L470.7,869.9 L471.8,865.7 L472.8,861.6 L473.9,857.4 L475.0,853.3 L476.2,849.2 L477.3,845.1 L478.5,841.0 L479.7,836.9 L480.9,832.9 L482.2,828.8 L483.5,824.8 L484.8,820.7 L486.1,816.7 L487.5,812.7 L488.9,808.7 L490.3,804.7 L491.7,800.7 L493.2,796.7 L494.7,792.7 L496.2,788.7 L497.7,784.7 L499.3,780.7 L500.9,776.7 L502.6,772.7 L504.2,768.8 L505.9,764.8 L507.6,760.8 L509.4,756.9 L511.2,752.9 L513.0,749.0 L514.8,745.0 L516.7,741.1 L518.6,737.2 L520.6,733.2 L522.6,729.3 L524.6,725.4 L526.6,721.5 L528.7,717.6 L530.8,713.8 L533.0,709.9 L535.2,706.0 L537.4,702.2 L539.7,698.4 L542.0,694.6 L544.4,690.8 L546.8,687.0 L549.2,683.2 L551.7,679.5 L554.2,675.7 L556.7,672.0 L559.3,668.3 L562.0,664.6 L564.7,661.0 L567.4,657.3 L570.2,653.7 L573.0,650.1 L575.8,646.5 L578.7,642.9 L581.7,639.4 L584.7,635.8 L587.7,632.3 L590.8,628.8 L593.9,625.3 L597.1,621.8 L600.3,618.4 L603.6,614.9 L606.9,611.5 L610.2,608.1 L613.6,604.7 L617.0,601.3 L620.5,598.0 L624.0,594.6 L627.6,591.3 L631.2,588.0 L634.9,584.7 L638.6,581.4 L642.4,578.2 L646.2,574.9 L650.0,571.7 L653.9,568.5 L657.8,565.3 L661.8,562.1 L665.9,559.0 L669.9,555.8 L674.0,552.7 L678.2,549.6 L682.4,546.5 L686.7,543.4 L691.0,540.4 L695.3,537.3 L699.7,534.2 L704.1,531.2 L708.6,528.2 L713.1,525.2 L717.7,522.1 L722.3,519.1 L727.0,516.2 L731.7,513.2 L736.4,510.2 L741.2,507.2 L746.0,504.3 L750.9,501.4 L755.8,498.4 L760.8,495.5 L765.8,492.6 L770.8,489.7 L775.9,486.8 L781.1,484.0 L786.3,481.1 L791.5,478.3 L796.8,475.5 L802.1,472.7 L807.4,469.9 L812.9,467.1 L818.3,464.3 L823.8,461.6 L829.4,458.9 L834.9,456.1 L840.6,453.5 L846.3,450.8 L852.0,448.1 L857.8,445.5 L863.6,442.9 L869.5,440.3 L875.4,437.7 L881.3,435.1 L887.3,432.6 L893.4,430.0 L899.5,427.5 L905.6,425.0 L911.8,422.6 L918.0,420.1 L924.3,417.7 L930.6,415.3 L937.0,412.8 L943.4,410.5 L949.8,408.1 L956.3,405.7 L962.9,403.4 L969.5,401.1 L976.1,398.8 L982.8,396.5 L989.5,394.2 L996.2,391.9 L1003.1,389.7 L1009.9,387.4 L1016.8,385.2 L1023.7,383.0 L1030.7,380.8 L1037.7,378.6 L1044.8,376.4 L1051.9,374.3 L1059.1,372.1 L1066.3,370.0 L1073.5,367.9 L1080.8,365.8 L1088.2,363.7 L1095.5,361.6 L1103.0,359.5 L1110.4,357.4 L1117.9,355.4 L1125.5,353.4 L1133.1,351.3 L1140.7,349.3 L1148.4,347.3 L1156.1,345.3 L1163.9,343.3 L1171.7,341.4 L1179.5,339.4 L1187.4,337.5 L1195.4,335.5 L1203.4,333.6 L1211.4,331.7 L1219.5,329.8 L1227.6,327.9 L1235.7,326.0 L1243.9,324.1 L1252.2,322.2 L1260.4,320.4 L1268.8,318.5 L1277.1,316.7 L1285.6,314.9 L1294.0,313.0 L1302.5,311.2 L1311.1,309.4 L1319.6,307.6 L1328.3,305.9 L1336.9,304.1 L1345.7,302.3 L1354.4,300.6 L1363.2,298.8 L1372.1,297.1 L1380.9,295.3 L1389.9,293.6 L1398.8,291.9 L1407.8,290.2 L1416.9,288.5 L1426.0,286.8 L1435.1,285.1 L1444.3,283.4 L1453.6,281.8 L1462.8,280.1 L1472.1,278.4 L1481.5,276.8 L1490.9,275.1 L1500.3,273.5 L1509.8,271.9 L1519.3,270.2 L1528.9,268.6 L1538.5,267.0 L1548.2,265.4 L1557.8,263.8 L1567.6,262.2 L1577.4,260.7 L1587.2,259.1 L1597.0,257.5 L1606.9,255.9 L1616.9,254.4 L1626.9,252.8 L1636.9,251.3 L1647.0,249.8 L1652.0,248.8 L1661.0,252.0 L1663.5,300.0 L1667.0,900.0 L1670.5,1300.0 L1671.1,1425.0 L1671.1,1425.0 L1671.5,1428.7 L1672.2,1432.3 L1673.0,1435.7 L1673.9,1439.0 L1675.0,1442.1 L1676.1,1445.0 L1677.3,1447.8 L1678.7,1450.4 L1680.4,1453.0 L1682.3,1455.5 L1684.4,1457.8 L1686.5,1459.8 L1688.8,1461.5 L1691.1,1462.9 L1693.5,1464.2 L1696.1,1465.3 L1698.8,1466.3 L1701.6,1467.3 L1704.5,1468.2 L1707.4,1469.1 L1710.4,1470.0 L1713.6,1470.8 L1716.8,1471.6 L1720.0,1472.3 L1723.1,1472.9 L1726.2,1473.3 L1729.1,1473.6 L1731.8,1473.8 L1734.6,1474.0 L1737.4,1474.2 L1740.5,1474.4 L1743.9,1474.7 L1747.9,1475.1 L1752.2,1475.6 L1756.9,1476.1 L1761.9,1476.7 L1767.1,1477.4 L1772.5,1478.0 L1777.9,1478.7 L1783.3,1479.3 L1788.6,1479.9 L1793.8,1480.4 L1798.8,1480.9 L1803.8,1481.4 L1808.8,1481.8 L1813.8,1482.3 L1818.9,1482.7 L1823.9,1483.1 L1828.9,1483.5 L1833.9,1483.9 L1838.8,1484.3 L1843.8,1484.6 L1848.6,1484.9 L1853.3,1485.1 L1857.9,1485.4 L1862.3,1485.6 L1866.8,1485.8 L1871.2,1485.9 L1875.8,1486.1 L1880.5,1486.3 L1885.5,1486.6 L1890.7,1486.8 L1896.3,1487.1 L1902.1,1487.5 L1908.2,1487.9 L1914.5,1488.3 L1921.0,1488.8 L1927.8,1489.3 L1934.7,1489.8 L1941.9,1490.4 L1949.2,1490.9 L1956.7,1491.5 L1964.3,1492.1 L1972.1,1492.7 L1980.0,1493.2 L1988.0,1493.8 L1996.2,1494.3 L2004.5,1494.8 L2013.1,1495.3 L2022.0,1495.8 L2031.2,1496.3 L2040.6,1496.9 L2050.3,1497.4 L2060.1,1497.9 L2070.2,1498.5 L2080.4,1499.0 L2090.7,1499.6 L2101.1,1500.1 L2111.6,1500.6 L2122.2,1501.1 L2132.8,1501.6 L2143.4,1502.1 L2154.0,1502.5 L2164.6,1503.0 L2175.0,1503.4 L2185.4,1503.7 L2195.7,1504.1 L2205.8,1504.4 L2215.8,1504.7 L2225.7,1505.0 L2235.7,1505.3 L2245.7,1505.5 L2255.7,1505.8 L2265.6,1506.1 L2275.6,1506.3 L2285.5,1506.6 L2295.5,1506.8 L2305.4,1507.0 L2315.4,1507.2 L2325.3,1507.4 L2335.2,1507.6 L2345.2,1507.8 L2355.1,1508.0 L2365.0,1508.2 L2375.0,1508.3 L2384.9,1508.4 L2394.8,1508.5 L2404.7,1508.6 L2414.6,1508.7" stroke="#000080"/>
<path d="M427.6,1514.1 L427.8,1513.0 L428.0,1511.9 L428.3,1510.6 L428.5,1509.2 L428.7,1507.8 L428.9,1506.4 L429.1,1504.8 L429.4,1503.2 L429.6,1501.6 L429.8,1499.9 L430.1,1498.1 L430.3,1496.2 L430.5,1494.4 L430.8,1492.4 L431.0,1490.4 L431.3,1488.3 L431.5,1486.2 L431.8,1484.0 L432.0,1481.7 L432.3,1479.4 L432.5,1477.0 L432.8,1474.5 L433.0,1472.0 L433.3,1469.4 L433.5,1466.7 L433.8,1464.0 L434.1,1461.2 L434.3,1458.4 L434.6,1455.4 L434.9,1452.5 L435.1,1449.4 L435.4,1446.3 L435.7,1443.1 L435.9,1439.9 L436.2,1436.6 L436.5,1433.3 L436.8,1429.9 L437.0,1426.4 L437.3,1422.9 L437.6,1419.3 L437.9,1415.7 L438.2,1412.0 L438.5,1408.3 L438.7,1404.5 L439.0,1400.7 L439.3,1396.9 L439.6,1392.9 L439.9,1389.0 L440.2,1385.0 L440.5,1380.9 L440.9,1376.8 L441.2,1372.7 L441.5,1368.5 L441.8,1364.3 L442.1,1360.1 L442.4,1355.8 L442.8,1351.5 L443.1,1347.1 L443.4,1342.7 L443.8,1338.3 L444.1,1333.8 L444.4,1329.4 L444.8,1324.8 L445.1,1320.3 L445.5,1315.7 L445.9,1311.1 L446.2,1306.5 L446.6,1301.8 L447.0,1297.2 L447.3,1292.5 L447.7,1287.8 L448.1,1283.0 L448.5,1278.3 L448.9,1273.5 L449.3,1268.7 L449.7,1263.9 L450.1,1259.0 L450.5,1254.2 L450.9,1249.3 L451.3,1244.4 L451.8,1239.5 L452.2,1234.6 L452.7,1229.7 L453.1,1224.8 L453.6,1219.9 L454.0,1214.9 L454.5,1210.0 L455.0,1205.0 L455.4,1200.1 L455.9,1195.1 L456.4,1190.1 L456.9,1185.1 L457.4,1180.2 L458.0,1175.2 L458.5,1170.2 L459.0,1165.2 L459.6,1160.3 L460.1,1155.3 L460.7,1150.3 L461.3,1145.3 L461.8,1140.4 L462.4,1135.4 L463.0,1130.5 L463.6,1125.5 L464.3,1120.6 L464.9,1115.6 L465.5,1110.7 L466.2,1105.8 L466.9,1100.9 L467.5,1096.0 L468.2,1091.1 L468.9,1086.3 L469.6,1081.4 L470.4,1076.6 L471.1,1071.8 L471.9,1067.0 L472.6,1062.2 L473.4,1057.4 L474.2,1052.6 L475.0,1047.9 L475.9,1043.2 L476.7,1038.5 L477.6,1033.8 L478.5,1029.1 L479.4,1024.5 L480.3,1019.9 L481.2,1015.3 L482.2,1010.7 L483.2,1006.1 L484.2,1001.6 L485.2,997.1 L486.2,992.6 L487.3,988.1 L488.4,983.6 L489.5,979.2 L490.6,974.8 L491.7,970.4 L492.9,966.0 L494.1,961.7 L495.3,957.4 L496.6,953.1 L497.9,948.8 L499.2,944.5 L500.5,940.3 L501.9,936.0 L503.2,931.8 L504.6,927.6 L506.1,923.4 L507.5,919.3 L509.0,915.1 L510.5,911.0 L512.1,906.9 L513.7,902.8 L515.3,898.7 L516.9,894.6 L518.6,890.5 L520.2,886.4 L522.0,882.4 L523.7,878.3 L525.5,874.3 L527.3,870.2 L529.1,866.2 L531.0,862.2 L532.9,858.1 L534.8,854.1 L536.8,850.1 L538.8,846.1 L540.8,842.1 L542.8,838.1 L544.9,834.1 L547.0,830.1 L549.2,826.1 L551.3,822.1 L553.5,818.2 L555.8,814.2 L558.1,810.3 L560.4,806.3 L562.7,802.4 L565.1,798.4 L567.5,794.5 L570.0,790.6 L572.5,786.7 L575.0,782.9 L577.5,779.0 L580.1,775.1 L582.8,771.3 L585.5,767.5 L588.2,763.7 L591.0,759.9 L593.8,756.1 L596.6,752.3 L599.5,748.6 L602.4,744.9 L605.4,741.1 L608.4,737.5 L611.4,733.8 L614.5,730.1 L617.6,726.5 L620.8,722.8 L624.0,719.2 L627.3,715.6 L630.6,712.0 L633.9,708.5 L637.3,704.9 L640.7,701.3 L644.1,697.8 L647.6,694.3 L651.2,690.7 L654.7,687.2 L658.4,683.7 L662.0,680.2 L665.7,676.8 L669.5,673.3 L673.2,669.8 L677.0,666.3 L680.9,662.9 L684.8,659.4 L688.7,656.0 L692.7,652.6 L696.7,649.1 L700.8,645.7 L704.9,642.3 L709.0,638.9 L713.2,635.5 L717.4,632.1 L721.7,628.7 L726.0,625.4 L730.3,622.0 L734.7,618.7 L739.1,615.4 L743.6,612.1 L748.1,608.8 L752.7,605.5 L757.3,602.2 L761.9,599.0 L766.6,595.7 L771.3,592.5 L776.1,589.3 L780.9,586.1 L785.8,583.0 L790.7,579.8 L795.6,576.7 L800.6,573.6 L805.6,570.5 L810.7,567.4 L815.8,564.4 L821.0,561.4 L826.2,558.4 L831.4,555.4 L836.7,552.4 L842.1,549.5 L847.5,546.5 L852.9,543.6 L858.4,540.7 L863.9,537.9 L869.4,535.0 L875.0,532.2 L880.7,529.4 L886.4,526.6 L892.1,523.9 L897.9,521.2 L903.7,518.4 L909.6,515.8 L915.5,513.1 L921.4,510.4 L927.4,507.8 L933.5,505.2 L939.5,502.6 L945.7,500.1 L951.8,497.5 L958.0,495.0 L964.3,492.5 L970.6,490.0 L976.9,487.5 L983.3,485.1 L989.7,482.6 L996.2,480.2 L1002.7,477.8 L1009.3,475.5 L1015.8,473.1 L1022.5,470.8 L1029.2,468.4 L1035.9,466.1 L1042.6,463.8 L1049.4,461.6 L1056.3,459.3 L1063.2,457.1 L1070.1,454.8 L1077.1,452.6 L1084.1,450.4 L1091.1,448.2 L1098.2,446.0 L1105.3,443.9 L1112.5,441.7 L1119.7,439.6 L1127.0,437.4 L1134.3,435.3 L1141.6,433.2 L1149.0,431.1 L1156.4,429.0 L1163.9,426.9 L1171.4,424.9 L1178.9,422.8 L1186.5,420.8 L1194.1,418.7 L1201.7,416.7 L1209.4,414.7 L1217.2,412.7 L1225.0,410.7 L1232.8,408.7 L1240.7,406.7 L1248.6,404.7 L1256.5,402.7 L1264.5,400.8 L1272.5,398.8 L1280.6,396.9 L1288.7,394.9 L1296.8,393.0 L1305.0,391.1 L1313.2,389.1 L1321.5,387.2 L1329.8,385.3 L1338.1,383.4 L1346.5,381.5 L1354.9,379.6 L1363.4,377.8 L1371.9,375.9 L1380.4,374.0 L1389.0,372.2 L1397.6,370.3 L1406.3,368.5 L1415.0,366.6 L1423.7,364.8 L1432.5,363.0 L1441.3,361.2 L1450.2,359.4 L1459.1,357.5 L1468.0,355.7 L1477.0,354.0 L1486.0,352.2 L1495.1,350.4 L1504.2,348.6 L1513.3,346.8 L1522.5,345.1 L1531.7,343.3 L1541.0,341.6 L1550.3,339.8 L1559.6,338.1 L1569.0,336.3 L1578.4,334.6 L1587.9,332.9 L1597.4,331.1 L1606.9,329.4 L1616.5,327.7 L1626.1,326.0 L1635.8,324.3 L1645.5,322.6 L1655.2,320.9 L1665.0,319.3 L1669.0,319.3 L1673.0,325.0 L1678.5,500.0 L1682.0,900.0 L1686.0,1300.0 L1690.3,1370.0 L1692.5,1390.0 L1692.5,1390.0 L1693.1,1393.5 L1693.9,1396.9 L1694.8,1400.1 L1695.9,1403.0 L1697.0,1405.7 L1698.2,1408.2 L1699.6,1410.5 L1701.2,1412.6 L1702.9,1414.6 L1704.9,1416.4 L1706.9,1418.0 L1709.1,1419.5 L1711.4,1420.8 L1714.0,1422.1 L1716.7,1423.3 L1719.5,1424.4 L1722.4,1425.5 L1725.2,1426.5 L1728.1,1427.4 L1731.1,1428.3 L1734.2,1429.2 L1737.4,1430.1 L1740.9,1431.0 L1744.6,1431.9 L1748.8,1433.0 L1753.3,1434.2 L1758.2,1435.5 L1763.3,1436.8 L1768.5,1438.0 L1773.9,1439.3 L1779.4,1440.4 L1784.8,1441.5 L1790.2,1442.4 L1795.3,1443.1 L1800.4,1443.6 L1805.6,1444.1 L1810.7,1444.6 L1815.8,1445.0 L1821.0,1445.4 L1826.1,1445.7 L1831.2,1446.1 L1836.3,1446.4 L1841.4,1446.8 L1846.4,1447.2 L1851.3,1447.7 L1856.0,1448.1 L1860.6,1448.5 L1865.1,1449.0 L1869.6,1449.5 L1874.3,1449.9 L1879.0,1450.4 L1884.0,1450.9 L1889.3,1451.4 L1894.9,1451.9 L1900.8,1452.4 L1906.9,1452.9 L1913.3,1453.4 L1920.0,1454.0 L1926.8,1454.5 L1933.9,1455.1 L1941.2,1455.7 L1948.7,1456.2 L1956.3,1456.8 L1964.1,1457.3 L1972.1,1457.9 L1980.2,1458.4 L1988.4,1458.9 L1996.7,1459.4 L2005.2,1459.9 L2014.1,1460.4 L2023.2,1460.9 L2032.6,1461.3 L2042.3,1461.8 L2052.2,1462.3 L2062.4,1462.8 L2072.7,1463.2 L2083.2,1463.7 L2093.8,1464.1 L2104.5,1464.6 L2115.3,1465.0 L2126.1,1465.5 L2136.9,1465.9 L2147.8,1466.3 L2158.6,1466.7 L2169.3,1467.1 L2180.0,1467.5 L2190.6,1467.9 L2201.0,1468.3 L2211.3,1468.7 L2221.5,1469.0 L2231.7,1469.4 L2241.9,1469.8 L2252.1,1470.1 L2262.2,1470.4 L2272.4,1470.8 L2282.6,1471.1 L2292.8,1471.4 L2303.0,1471.8 L2313.1,1472.1 L2323.3,1472.4 L2333.5,1472.7 L2343.6,1473.0 L2353.8,1473.3 L2363.9,1473.6 L2374.1,1473.9 L2384.2,1474.1 L2394.3,1474.4 L2404.5,1474.6 L2414.6,1474.9" stroke="#8000ff"/>
</g>
<polygon points="2043.5,102.0 2051.5,91.8 2244.5,91.8 2252.5,102.0 2244.5,112.2 2051.5,112.2" fill="#8000ff"/>
<text class="lg" x="2259" y="132.5" fill="#8000ff">(g)</text>
<polygon points="2043.5,207.1 2051.5,196.8 2244.5,196.8 2252.5,207.1 2244.5,217.3 2051.5,217.3" fill="#000080"/>
<text class="lg" x="2259" y="237.6" fill="#000080">(f)</text>
<polygon points="2043.5,312.2 2051.5,301.9 2244.5,301.9 2252.5,312.2 2244.5,322.4 2051.5,322.4" fill="#008000"/>
<text class="lg" x="2259" y="342.7" fill="#008000">(e)</text>
<polygon points="2043.5,417.3 2051.5,407.0 2244.5,407.0 2252.5,417.3 2244.5,427.5 2051.5,427.5" fill="#ff00ff"/>
<text class="lg" x="2259" y="447.8" fill="#ff00ff">(d)</text>
<polygon points="2043.5,522.4 2051.5,512.1 2244.5,512.1 2252.5,522.4 2244.5,532.6 2051.5,532.6" fill="#0000ff"/>
<text class="lg" x="2259" y="552.9" fill="#0000ff">(c)</text>
<polygon points="2043.5,627.5 2051.5,617.2 2244.5,617.2 2252.5,627.5 2244.5,637.8 2051.5,637.8" fill="#ff0000"/>
<text class="lg" x="2259" y="658.0" fill="#ff0000">(b)</text>
<polygon points="2043.5,732.6 2051.5,722.3 2244.5,722.3 2252.5,732.6 2244.5,742.8 2051.5,742.8" fill="#000000"/>
<text class="lg" x="2259" y="763.1" fill="#000000">(a)</text>
<text class="ax" transform="translate(1411.5,1952) scale(0.967,1)" text-anchor="middle">Time (s)</text>
<text class="ax" transform="translate(124.5,1278.7) rotate(-90) scale(0.967,1)"><tspan x="0" letter-spacing="1.54">Response</tspan> <tspan x="604.1">(</tspan><tspan x="654.0">R</tspan><tspan x="752.5" dy="45.5" font-size="89">g</tspan><tspan x="793.9" dy="-45.5">/</tspan><tspan x="829.1">R</tspan><tspan x="936.6" dy="45.5" font-size="89">a</tspan><tspan x="977.1" dy="-45.5">)</tspan></text>
</svg>
</body>
</html>
